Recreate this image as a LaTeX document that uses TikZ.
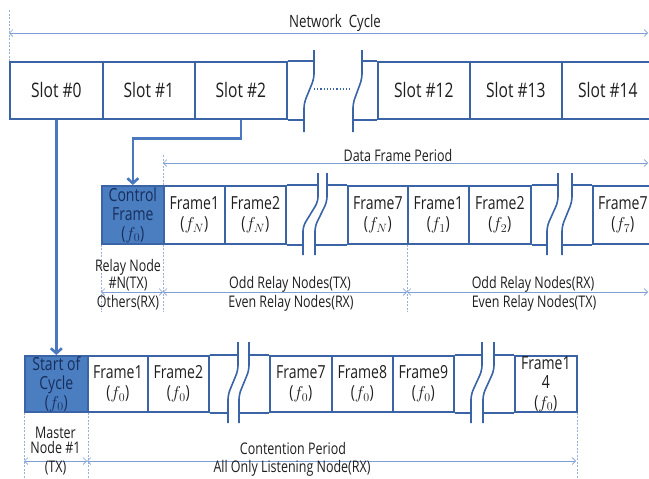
\documentclass[tikz,border=0pt]{standalone}
\usepackage{fontspec}
\setmainfont[FakeStretch=0.78]{Open Sans}
\usetikzlibrary{arrows.meta}
\definecolor{bord}{HTML}{3A64A6}
\definecolor{bfill}{HTML}{4A7EC1}
\definecolor{btext}{HTML}{172E5C}
\definecolor{dimc}{HTML}{7E9FD6}
\definecolor{guidec}{HTML}{9DAFD3}
\definecolor{txt}{HTML}{1E1E1E}
\definecolor{thk}{HTML}{4A78BE}
\newcommand\brkpair[6]{%
  \fill[white] (#1,#5) -- (#1,{#5+0.35*(#6-#5)}) -- (#2,{#5+0.65*(#6-#5)}) -- (#2,#6)
     -- (#4,#6) -- (#4,{#5+0.65*(#6-#5)}) -- (#3,{#5+0.35*(#6-#5)}) -- (#3,#5) -- cycle;
  \draw[brk] (#1,#5) -- (#1,{#5+0.35*(#6-#5)}) -- (#2,{#5+0.65*(#6-#5)}) -- (#2,#6);
  \draw[brk] (#3,#5) -- (#3,{#5+0.35*(#6-#5)}) -- (#4,{#5+0.65*(#6-#5)}) -- (#4,#6);
}
\begin{document}
\begin{tikzpicture}[x=1pt,y=-1pt,
  cellbase/.style={draw=bord,line width=1.7pt,inner sep=0pt,anchor=north west,align=center,text=txt,font=\fontsize{18}{20.5}\selectfont},
  topcell/.style={cellbase,minimum width=#1,minimum height=57pt,font=\fontsize{20}{24}\selectfont},
  midcell/.style={cellbase,minimum width=#1,minimum height=58pt},
  botcell/.style={cellbase,minimum width=#1,minimum height=56pt},
  bluecell/.style={fill=bfill,text=btext,font=\fontsize{18}{19}\selectfont},
  rowline/.style={draw=bord,line width=1.7pt},
  brk/.style={draw=bord,line width=1.6pt,rounded corners=5pt},
  dim/.style={draw=dimc,line width=0.7pt,{Straight Barb[length=3.5pt,width=7pt]}-{Straight Barb[length=3.5pt,width=7pt]}},
  guide/.style={draw=guidec,line width=0.8pt,dash pattern=on 2pt off 1.5pt},
  lbl/.style={inner sep=0pt,text=txt,align=center,font=\fontsize{16}{17}\selectfont},
  thickarrow/.style={draw=thk,line width=2.6pt,-{Straight Barb[length=5pt,width=11pt]}}
]
\useasboundingbox (0,0) rectangle (649,479);
\clip (0,0) rectangle (649,479);

% ---------- top row ----------
\node[topcell=93] (s0) at (9,61) {Slot \#0};
\node[topcell=92] (s1) at (102,61) {Slot \#1};
\node[topcell=92] (s2) at (194,61) {Slot \#2};
\node[topcell=92] (s12) at (377,61) {Slot \#12};
\node[topcell=92] (s13) at (469,61) {Slot \#13};
\node[topcell=92] (s14) at (561,61) {Slot \#14};
\draw[rowline] (s2.north east) -- (s12.north west);
\draw[rowline] (s2.south east) -- (s12.south west);
\brkpair{314}{304}{362}{353}{50}{132}
\coordinate (dl) at (314,89);
\coordinate (dr) at (351,89);
\draw[draw=bord,line width=1.2pt,dotted] (dl) -- (dr);

\coordinate (ncl) at (9,33);
\coordinate (ncr) at (648,33);
\draw[dim] (ncl) -- (ncr);
\node[lbl,font=\fontsize{17}{17}\selectfont] (nc) at (335,23) {Network\ \ Cycle};
\draw[guide] (s0.north west) -- ++(0,-51);

% ---------- middle row ----------
\node[midcell=62,bluecell] (cf) at (101,185) {Control\\Frame\\($f_0$)};
\node[midcell=61] (m1) at (163,185) {Frame1\\($f_N$)};
\node[midcell=61] (m2) at (224,185) {Frame2\\($f_N$)};
\node[midcell=60] (m7) at (347,185) {Frame7\\($f_N$)};
\node[midcell=61] (n1) at (407,185) {Frame1\\($f_1$)};
\node[midcell=62] (n2) at (468,185) {Frame2\\($f_2$)};
\node[midcell=60] (n7) at (592,185) {Frame7\\($f_7$)};
\draw[rowline] (m2.north east) -- (m7.north west);
\draw[rowline] (m2.south east) -- (m7.south west);
\draw[rowline] (n2.north east) -- (n7.north west);
\draw[rowline] (n2.south east) -- (n7.south west);
\brkpair{318}{303}{327}{315}{173}{255}
\brkpair{558}{547}{572}{562}{173}{255}

\draw[guide] (m1.north west) -- ++(0,-30);
\draw[guide] (m1.south west) -- ++(0,67);
\draw[guide] (cf.south west) -- ++(0,67);
\draw[guide] (n1.south west) -- ++(0,67);

\coordinate (dfl) at (163,163);
\coordinate (dfr) at (648,163);
\draw[dim] (dfl) -- (dfr);
\node[lbl] (dfp) at (398,155) {Data Frame Period};

\coordinate (ma) at (101,292);
\coordinate (mb) at (163,292);
\coordinate (mc) at (407,292);
\coordinate (md) at (648,292);
\draw[dim] (ma) -- (mb);
\draw[dim] (mb) -- (mc);
\draw[dim] (mc) -- (md);
\node[lbl] (rn) at (128,275.5) {Relay Node\\\#N(TX)};
\node[lbl] (oth) at (128,303) {Others(RX)};
\node[lbl] (otx) at (290,284) {Odd Relay Nodes(TX)};
\node[lbl] (erx) at (291,303) {Even Relay Nodes(RX)};
\node[lbl] (orx) at (533,284) {Odd Relay Nodes(RX)};
\node[lbl] (etx) at (534,303) {Even Relay Nodes(TX)};

% ---------- bottom row ----------
\node[botcell=63,bluecell] (sc) at (24,355) {Start of\\Cycle\\($f_0$)};
\node[botcell=60] (b1) at (87,355) {Frame1\\($f_0$)};
\node[botcell=61] (b2) at (147,355) {Frame2\\($f_0$)};
\node[botcell=62] (b7) at (269,355) {Frame7\\($f_0$)};
\node[botcell=61] (b8) at (331,355) {Frame8\\($f_0$)};
\node[botcell=61] (b9) at (392,355) {Frame9\\($f_0$)};
\node[botcell=62,font=\fontsize{18}{19.5}\selectfont] (b14) at (514,355) {Frame1\\4\\($f_0$)};
\draw[rowline] (b2.north east) -- (b7.north west);
\draw[rowline] (b2.south east) -- (b7.south west);
\draw[rowline] (b9.north east) -- (b14.north west);
\draw[rowline] (b9.south east) -- (b14.south west);
\brkpair{238}{228}{249}{239}{342}{423}
\brkpair{482}{471}{494}{483}{342}{423}

\draw[guide] (sc.south west) -- ++(0,70);
\draw[guide] (sc.south east) -- ++(0,70);
\draw[guide] (b14.south east) -- ++(0,70);

\coordinate (ba) at (24,461);
\coordinate (bb) at (87,461);
\coordinate (bc) at (576,461);
\draw[dim] (ba) -- (bb);
\draw[dim] (bb) -- (bc);
\node[lbl,font=\fontsize{16}{15}\selectfont] (mn) at (55.5,440) {Master\\Node \#1};
\node[lbl] (mtx) at (55.5,468) {(TX)};
\node[lbl] (cp) at (293,448) {Contention Period};
\node[lbl] (aol) at (292,468) {All Only Listening Node(RX)};

% ---------- thick connectors ----------
\draw[thickarrow] (s0.south) -- (sc.north);
\draw[thickarrow] (s2.south) -- ++(0,19) -| (cf.north);
\end{tikzpicture}
\end{document}
